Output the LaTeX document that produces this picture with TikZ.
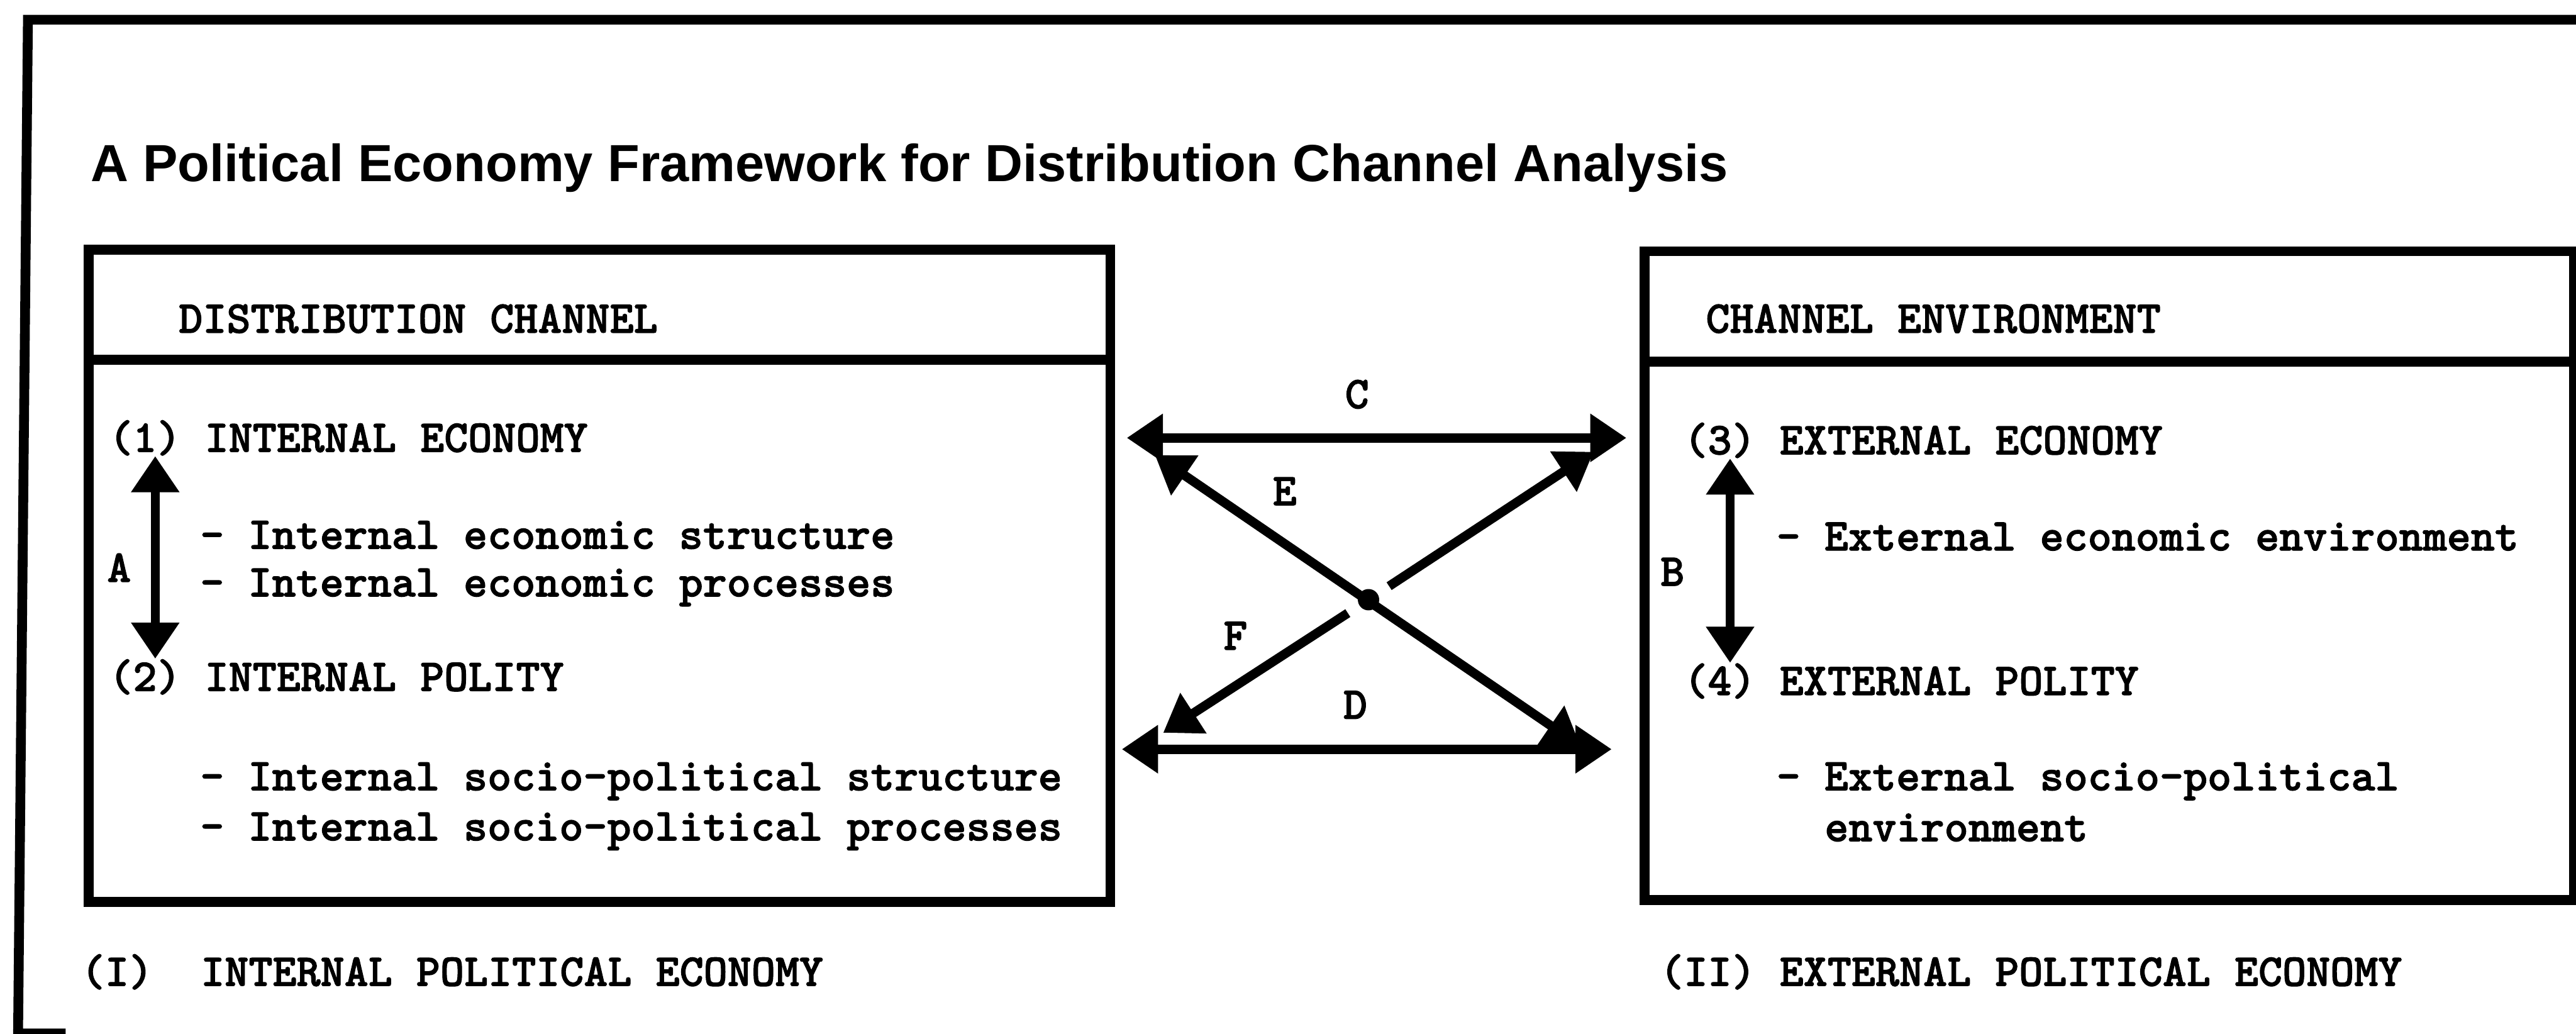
\documentclass[tikz,border=0pt]{standalone}
\usepackage{fontspec}
\newfontfamily\titlefont{Liberation Sans}
\newfontfamily\typefont{lmmonolt10-bold.otf}[FakeBold=1.6]
\usetikzlibrary{arrows.meta,calc}

\tikzset{
  frameline/.style={line width=3.4pt},
  panel/.style={draw,line width=3.4pt,inner sep=0pt,anchor=north west},
  heading/.style={font=\titlefont\bfseries\fontsize{18.1}{22}\selectfont,anchor=base west,inner sep=0pt},
  typed/.style={font=\typefont\fontsize{15.8}{19}\selectfont,anchor=base west,inner sep=0pt},
  linklabel/.style={font=\typefont\fontsize{15.8}{19}\selectfont,inner sep=0pt},
  linkarrow/.style={{Triangle[length=4.4mm,width=5.6mm]}-{Triangle[length=4.4mm,width=5.6mm]},line width=3.2pt},
  halfarrow/.style={-{Triangle[length=4.4mm,width=5.6mm]},line width=3.2pt},
  hubdot/.style={circle,fill,inner sep=0pt,minimum size=2.6mm}
}

\begin{document}
\begin{tikzpicture}[x=0.02cm,y=-0.02cm]
\useasboundingbox (0,0) rectangle (1568,629);
\clip (0,0) rectangle (1568,629);

% outer frame
\draw[frameline] (1580,12) -- (17,12) -- (11,629) -- (40,629);

\node[heading] (title) at (55,110.5) {A Political Economy Framework for Distribution Channel Analysis};

% the two panels
\node[panel,minimum width=12.44cm,minimum height=7.94cm] (chan) at (51,149) {};
\node[panel,minimum width=11.32cm,minimum height=7.9cm] (env) at (998,150) {};
\draw[frameline] (chan.west |- 0,219) -- (chan.east |- 0,219);
\draw[frameline] (env.west |- 0,220) -- (env.east |- 0,220);

% distribution channel
\node[typed] (dchead) at (108.5,202.5) {DISTRIBUTION CHANNEL};
\node[typed] (inecon) at (66,275) {(1) INTERNAL ECONOMY};
\node[typed] (inecs) at (121.5,334) {- Internal economic structure};
\node[typed] (inecp) at (121.5,363) {- Internal economic processes};
\node[typed] (inpol) at (66,420.5) {(2) INTERNAL POLITY};
\node[typed] (inpols) at (121.5,481) {- Internal socio-political structure};
\node[typed] (inpolp) at (121.5,511.5) {- Internal socio-political processes};

% channel environment
\node[typed] (cehead) at (1038,202.5) {CHANNEL ENVIRONMENT};
\node[typed] (execon) at (1024.6,276.5) {(3) EXTERNAL ECONOMY};
\node[typed] (execs) at (1081,335) {- External economic environment};
\node[typed] (expol) at (1024.6,423) {(4) EXTERNAL POLITY};
\node[typed] (expols) at (1081,481) {- External socio-political};
\node[typed] (expolr) at (1110.3,512) {environment};

% captions
\node[typed] (inpe) at (49,600) {(I)~~INTERNAL POLITICAL ECONOMY};
\node[typed] (expe) at (1010,600) {(II) EXTERNAL POLITICAL ECONOMY};

% links
\draw[linkarrow] ([xshift=0.57cm]inecon.south west) -- ([xshift=0.57cm]inpol.north west);
\draw[linkarrow] ([xshift=0.57cm]execon.south west) -- ([xshift=0.57cm]expol.north west);
\draw[linkarrow,shorten <=0.14cm,shorten >=0.16cm] (chan.east |- inecon.west) -- (env.west |- inecon.west);
\draw[linkarrow,shorten <=0.08cm,shorten >=0.34cm] (chan.east |- 0,456) -- (env.west |- 0,456);

\coordinate (enw) at (703,277);
\coordinate (ese) at (962,454);
\coordinate (fne) at (970,275);
\coordinate (fsw) at (708,446);
\node[hubdot] (hub) at (833,365) {};
\draw[linkarrow] (enw) -- (ese);
\draw[halfarrow] ($(hub)!0.3cm!(fne)$) -- (fne);
\draw[halfarrow] ($(hub)!0.3cm!(fsw)$) -- (fsw);

\node[linklabel] (lblA) at (72.5,345.5) {A};
\node[linklabel] (lblB) at (1018,348) {B};
\node[linklabel] (lblC) at (826,240) {C};
\node[linklabel] (lblD) at (825,429) {D};
\node[linklabel] (lblE) at (782,299) {E};
\node[linklabel] (lblF) at (752,387) {F};
\end{tikzpicture}
\end{document}
